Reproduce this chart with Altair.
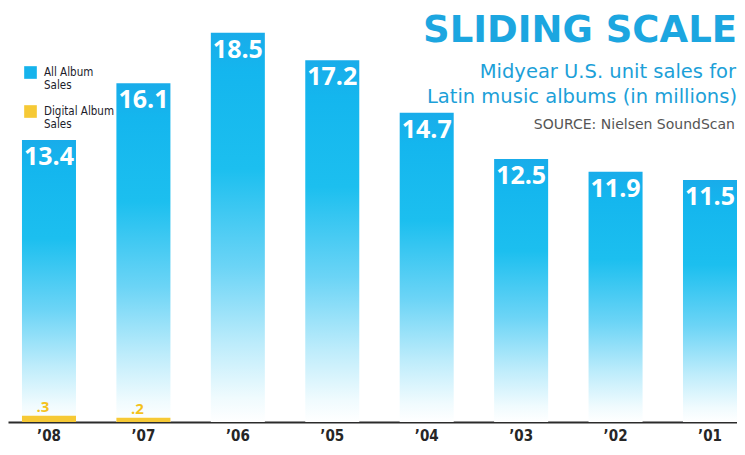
import altair as alt
import pandas as pd

years = ["’08", "’07", "’06", "’05", "’04", "’03", "’02", "’01"]
all_sales = [13.4, 16.1, 18.5, 17.2, 14.7, 12.5, 11.9, 11.5]
digital_years = ["’08", "’07"]
digital_sales = [0.3, 0.2]
digital_labels = [".3", ".2"]
series_names = ["All Album Sales", "Digital Album Sales"]
series_colors = ["#16b3ec", "#f6c935"]

title = "SLIDING SCALE"
subtitle = ["Midyear U.S. unit sales for", "Latin music albums (in millions)"]
source = "SOURCE: Nielsen SoundScan"

main_df = pd.DataFrame({"year": years, "value": all_sales,
                        "series": [series_names[0]] * len(years)})
dig_df = pd.DataFrame({"year": digital_years, "value": digital_sales,
                       "label": digital_labels,
                       "series": [series_names[1]] * len(digital_years)})

xscale = alt.Scale(domain=years, paddingInner=0.428, paddingOuter=0.074, align=1)
yscale = alt.Scale(domain=[0, 19.68], nice=False, zero=True)

narrow = "DejaVu Sans Condensed, DejaVu Sans"

grad = alt.Gradient(
    gradient="linear",
    stops=[
        alt.GradientStop(color="#19acea", offset=0),
        alt.GradientStop(color="#14b6ee", offset=0.1),
        alt.GradientStop(color="#1cbfef", offset=0.35),
        alt.GradientStop(color="#6bd4f6", offset=0.6),
        alt.GradientStop(color="#bdecfb", offset=0.8),
        alt.GradientStop(color="#f0fbfe", offset=0.94),
        alt.GradientStop(color="#ffffff", offset=1),
    ],
    x1=0, x2=0, y1=0, y2=1,
)

x_enc = alt.X("year:N", scale=xscale, sort=None,
              axis=alt.Axis(title=None, labelAngle=0, ticks=False,
                            domainColor="#2b2b2b", domainWidth=2,
                            labelFont=narrow, labelFontWeight="bold",
                            labelFontSize=15, labelColor="#262626",
                            labelPadding=6, labelBaseline="top"))
y_enc = alt.Y("value:Q", scale=yscale, axis=None)

main_bars = alt.Chart(main_df).mark_bar(fill=grad, strokeWidth=0).encode(
    x=x_enc, y=y_enc)

dig_bars = alt.Chart(dig_df).mark_bar().encode(
    x=alt.X("year:N", scale=xscale, sort=None),
    y=alt.Y("value:Q", scale=yscale),
    color=alt.Color("series:N",
                    scale=alt.Scale(domain=series_names, range=series_colors),
                    legend=alt.Legend(
                        title=None, orient="none", legendX=16, legendY=52,
                        symbolType="M-1,-0.05H1V1.95H-1Z", symbolSize=160,
                        symbolStrokeWidth=0,
                        labelFont=narrow, labelFontSize=11.5, labelColor="#1c1c2a",
                        labelFontWeight="normal", labelBaseline="top",
                        labelExpr="[replace(datum.label, ' Sales', ''), 'Sales']",
                        rowPadding=7, labelOffset=7)),
)

value_labels = alt.Chart(main_df).mark_text(
    baseline="top", dy=5, color="white", font="Open Sans",
    fontWeight="bold", fontSize=25).encode(
    x=alt.X("year:N", scale=xscale, sort=None),
    y=alt.Y("value:Q", scale=yscale),
    text="value:Q")

dig_labels = alt.Chart(dig_df).mark_text(
    baseline="bottom", dy=-1, dx=-6, color="#f4c21c", font="Open Sans",
    fontWeight="bold", fontSize=15).encode(
    x=alt.X("year:N", scale=xscale, sort=None),
    y=alt.Y("value:Q", scale=yscale),
    text="label:N")

blank = alt.Data(values=[{}])
t1 = alt.Chart(blank).mark_text(
    text=title, align="right", baseline="alphabetic", font="DejaVu Sans",
    fontWeight="bold", fontSize=37, color="#1ca6e0").encode(
    x=alt.value(729), y=alt.value(34))
t2 = alt.Chart(blank).mark_text(
    text=subtitle[0], align="right", baseline="alphabetic", font="DejaVu Sans",
    fontSize=19.5, color="#1ca0d8").encode(x=alt.value(728), y=alt.value(70))
t3 = alt.Chart(blank).mark_text(
    text=subtitle[1], align="right", baseline="alphabetic", font="DejaVu Sans",
    fontSize=19.5, color="#1ca0d8").encode(x=alt.value(729), y=alt.value(95))
t4 = alt.Chart(blank).mark_text(
    text=source, align="right", baseline="alphabetic", font="DejaVu Sans",
    fontSize=14, color="#555555").encode(x=alt.value(727), y=alt.value(121))

chart = alt.layer(main_bars, dig_bars, value_labels, dig_labels, t1, t2, t3, t4).properties(
    width=729, height=414,
    autosize=alt.AutoSizeParams(type="none"),
    padding={"left": 0, "top": 0, "right": 0, "bottom": 25},
).configure_view(stroke=None)

chart.save("out.html", embed_options={"renderer": "svg", "actions": False})
